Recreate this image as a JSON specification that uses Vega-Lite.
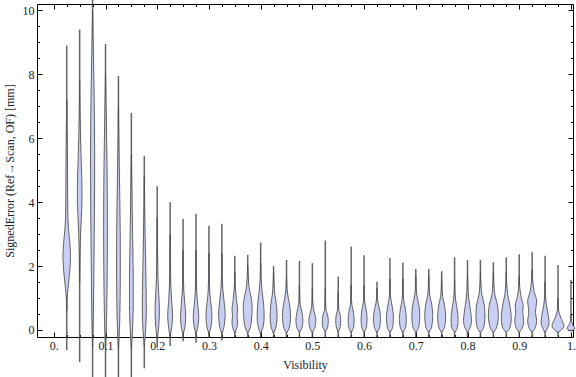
{
  "$schema": "https://vega.github.io/schema/vega-lite/v6.json",
  "width": 536,
  "height": 333,
  "autosize": "none",
  "padding": {"left": 37, "top": 4, "right": 3, "bottom": 40},
  "config": {
    "view": {"stroke": "#000", "strokeWidth": 1},
    "font": "Liberation Serif",
    "axis": {"labelFont": "Liberation Serif", "titleFont": "Liberation Serif", "labelFontSize": 12, "titleFontSize": 12, "titleFontWeight": "normal", "labelColor": "#222", "titleColor": "#222", "tickColor": "#000", "grid": false, "domain": false}
  },
  "datasets": {
    "tails": [
      {"v":0.025,"lo":-0.63,"hi":8.9},{"v":0.05,"lo":-1.0,"hi":9.4},{"v":0.075,"lo":-1.5,"hi":10.4},{"v":0.1,"lo":-1.5,"hi":8.95},
      {"v":0.125,"lo":-1.5,"hi":7.95},{"v":0.15,"lo":-1.5,"hi":6.8},{"v":0.175,"lo":-1.2,"hi":5.45},{"v":0.2,"lo":-0.55,"hi":4.5},
      {"v":0.225,"lo":-0.5,"hi":4.0},{"v":0.25,"lo":-0.35,"hi":3.47},{"v":0.275,"lo":-0.4,"hi":3.64},{"v":0.3,"lo":-0.25,"hi":3.26},
      {"v":0.325,"lo":-0.33,"hi":3.32},{"v":0.35,"lo":-0.22,"hi":2.32},{"v":0.375,"lo":-0.22,"hi":2.35},{"v":0.4,"lo":-0.22,"hi":2.74},
      {"v":0.425,"lo":-0.22,"hi":2.0},{"v":0.45,"lo":-0.22,"hi":2.19},{"v":0.475,"lo":-0.22,"hi":2.16},{"v":0.5,"lo":-0.22,"hi":2.09},
      {"v":0.525,"lo":-0.22,"hi":2.8},{"v":0.55,"lo":-0.22,"hi":1.67},{"v":0.575,"lo":-0.22,"hi":2.61},{"v":0.6,"lo":-0.22,"hi":2.34},
      {"v":0.625,"lo":-0.22,"hi":1.51},{"v":0.65,"lo":-0.22,"hi":2.25},{"v":0.675,"lo":-0.22,"hi":2.11},{"v":0.7,"lo":-0.22,"hi":1.91},
      {"v":0.725,"lo":-0.22,"hi":1.91},{"v":0.75,"lo":-0.22,"hi":1.84},{"v":0.775,"lo":-0.22,"hi":2.27},{"v":0.8,"lo":-0.22,"hi":2.19},
      {"v":0.825,"lo":-0.22,"hi":2.19},{"v":0.85,"lo":-0.22,"hi":2.12},{"v":0.875,"lo":-0.22,"hi":2.27},{"v":0.9,"lo":-0.22,"hi":2.37},
      {"v":0.925,"lo":-0.22,"hi":2.43},{"v":0.95,"lo":-0.22,"hi":2.32},{"v":0.975,"lo":-0.2,"hi":2.03},{"v":1.0,"lo":-0.05,"hi":1.57}
    ],
    "bodies": [
      {"v":0.025,"e":0.6,"d":0},{"v":0.025,"e":1.1,"d":0.6},{"v":0.025,"e":1.5,"d":2.0},{"v":0.025,"e":1.9,"d":3.2},{"v":0.025,"e":2.3,"d":3.8},{"v":0.025,"e":2.7,"d":3.2},{"v":0.025,"e":3.1,"d":2.0},{"v":0.025,"e":3.5,"d":1.2},{"v":0.025,"e":4.2,"d":0.9},{"v":0.025,"e":5.0,"d":0.8},{"v":0.025,"e":5.8,"d":0.6},{"v":0.025,"e":6.5,"d":0.3},{"v":0.025,"e":7.2,"d":0},
      {"v":0.05,"e":1.5,"d":0},{"v":0.05,"e":2.5,"d":0.5},{"v":0.05,"e":3.0,"d":0.9},{"v":0.05,"e":3.5,"d":1.6},{"v":0.05,"e":4.0,"d":2.3},{"v":0.05,"e":4.5,"d":2.3},{"v":0.05,"e":5.0,"d":1.9},{"v":0.05,"e":5.5,"d":1.4},{"v":0.05,"e":6.0,"d":0.9},{"v":0.05,"e":6.8,"d":0.4},{"v":0.05,"e":7.8,"d":0},
      {"v":0.075,"e":-0.5,"d":0},{"v":0.075,"e":0.5,"d":0.8},{"v":0.075,"e":1.5,"d":1.2},{"v":0.075,"e":2.5,"d":1.5},{"v":0.075,"e":3.5,"d":1.8},{"v":0.075,"e":4.5,"d":2.0},{"v":0.075,"e":5.5,"d":2.1},{"v":0.075,"e":6.5,"d":1.9},{"v":0.075,"e":7.5,"d":1.5},{"v":0.075,"e":8.5,"d":0.9},{"v":0.075,"e":9.3,"d":0.4},{"v":0.075,"e":10.0,"d":0},
      {"v":0.1,"e":-0.6,"d":0},{"v":0.1,"e":0.3,"d":1.0},{"v":0.1,"e":1.2,"d":1.5},{"v":0.1,"e":2.2,"d":1.8},{"v":0.1,"e":3.2,"d":1.9},{"v":0.1,"e":4.2,"d":1.8},{"v":0.1,"e":5.2,"d":1.5},{"v":0.1,"e":6.2,"d":1.0},{"v":0.1,"e":7.2,"d":0.5},{"v":0.1,"e":8.0,"d":0},
      {"v":0.125,"e":-0.6,"d":0},{"v":0.125,"e":0.2,"d":1.2},{"v":0.125,"e":1.0,"d":1.7},{"v":0.125,"e":2.0,"d":1.9},{"v":0.125,"e":3.0,"d":1.8},{"v":0.125,"e":4.0,"d":1.4},{"v":0.125,"e":5.0,"d":0.9},{"v":0.125,"e":6.0,"d":0.4},{"v":0.125,"e":7.0,"d":0},
      {"v":0.15,"e":-0.6,"d":0},{"v":0.15,"e":0.1,"d":1.3},{"v":0.15,"e":0.8,"d":1.9},{"v":0.15,"e":1.6,"d":1.9},{"v":0.15,"e":2.5,"d":1.5},{"v":0.15,"e":3.5,"d":1.0},{"v":0.15,"e":4.5,"d":0.5},{"v":0.15,"e":5.5,"d":0},
      {"v":0.175,"e":-0.5,"d":0},{"v":0.175,"e":0.0,"d":1.3},{"v":0.175,"e":0.6,"d":2.0},{"v":0.175,"e":1.2,"d":1.9},{"v":0.175,"e":2.0,"d":1.4},{"v":0.175,"e":3.0,"d":0.8},{"v":0.175,"e":4.0,"d":0.3},{"v":0.175,"e":4.8,"d":0},
      {"v":0.2,"e":-0.3,"d":0},{"v":0.2,"e":0.1,"d":1.5},{"v":0.2,"e":0.6,"d":2.2},{"v":0.2,"e":1.1,"d":1.6},{"v":0.2,"e":1.6,"d":0.8},{"v":0.2,"e":2.5,"d":0.4},{"v":0.2,"e":3.5,"d":0},
      {"v":0.225,"e":-0.2,"d":0},{"v":0.225,"e":0.1,"d":1.6},{"v":0.225,"e":0.45,"d":2.5},{"v":0.225,"e":0.9,"d":1.5},{"v":0.225,"e":1.4,"d":0.7},{"v":0.225,"e":2.2,"d":0.3},{"v":0.225,"e":3.0,"d":0},
      {"v":0.25,"e":-0.15,"d":0},{"v":0.25,"e":0.1,"d":1.8},{"v":0.25,"e":0.4,"d":2.6},{"v":0.25,"e":0.8,"d":1.8},{"v":0.25,"e":1.2,"d":0.8},{"v":0.25,"e":1.8,"d":0.3},{"v":0.25,"e":2.5,"d":0},
      {"v":0.275,"e":-0.15,"d":0},{"v":0.275,"e":0.1,"d":1.8},{"v":0.275,"e":0.4,"d":2.8},{"v":0.275,"e":0.8,"d":1.8},{"v":0.275,"e":1.2,"d":0.7},{"v":0.275,"e":1.8,"d":0.3},{"v":0.275,"e":2.5,"d":0},
      {"v":0.3,"e":-0.12,"d":0},{"v":0.3,"e":0.1,"d":2.0},{"v":0.3,"e":0.45,"d":3.0},{"v":0.3,"e":0.85,"d":1.9},{"v":0.3,"e":1.2,"d":0.8},{"v":0.3,"e":1.8,"d":0.3},{"v":0.3,"e":2.4,"d":0},
      {"v":0.325,"e":-0.12,"d":0},{"v":0.325,"e":0.1,"d":2.2},{"v":0.325,"e":0.5,"d":3.3},{"v":0.325,"e":0.9,"d":2.2},{"v":0.325,"e":1.3,"d":0.9},{"v":0.325,"e":1.8,"d":0.3},{"v":0.325,"e":2.4,"d":0},
      {"v":0.35,"e":-0.1,"d":0},{"v":0.35,"e":0.1,"d":2.3},{"v":0.35,"e":0.25,"d":2.8},{"v":0.35,"e":0.45,"d":2.3},{"v":0.35,"e":0.65,"d":2.8},{"v":0.35,"e":0.9,"d":1.8},{"v":0.35,"e":1.3,"d":0.6},{"v":0.35,"e":1.8,"d":0},
      {"v":0.375,"e":-0.1,"d":0},{"v":0.375,"e":0.1,"d":2.8},{"v":0.375,"e":0.4,"d":4.0},{"v":0.375,"e":0.7,"d":4.5},{"v":0.375,"e":1.0,"d":3.5},{"v":0.375,"e":1.3,"d":1.5},{"v":0.375,"e":1.7,"d":0.5},{"v":0.375,"e":2.0,"d":0},
      {"v":0.4,"e":-0.1,"d":0},{"v":0.4,"e":0.1,"d":2.5},{"v":0.4,"e":0.4,"d":3.5},{"v":0.4,"e":0.8,"d":3.0},{"v":0.4,"e":1.2,"d":1.5},{"v":0.4,"e":1.6,"d":0.5},{"v":0.4,"e":2.1,"d":0},
      {"v":0.425,"e":-0.1,"d":0},{"v":0.425,"e":0.1,"d":2.5},{"v":0.425,"e":0.4,"d":3.5},{"v":0.425,"e":0.8,"d":2.8},{"v":0.425,"e":1.1,"d":1.3},{"v":0.425,"e":1.5,"d":0.4},{"v":0.425,"e":1.8,"d":0},
      {"v":0.45,"e":-0.1,"d":0},{"v":0.45,"e":0.1,"d":3.0},{"v":0.45,"e":0.4,"d":4.0},{"v":0.45,"e":0.7,"d":3.5},{"v":0.45,"e":1.0,"d":1.8},{"v":0.45,"e":1.3,"d":0.5},{"v":0.45,"e":1.7,"d":0},
      {"v":0.475,"e":-0.08,"d":0},{"v":0.475,"e":0.1,"d":2.8},{"v":0.475,"e":0.3,"d":3.5},{"v":0.475,"e":0.55,"d":2.5},{"v":0.475,"e":0.8,"d":0.8},{"v":0.475,"e":1.1,"d":0.2},{"v":0.475,"e":1.4,"d":0},
      {"v":0.5,"e":-0.08,"d":0},{"v":0.5,"e":0.1,"d":2.8},{"v":0.5,"e":0.3,"d":3.5},{"v":0.5,"e":0.5,"d":2.5},{"v":0.5,"e":0.7,"d":0.8},{"v":0.5,"e":1.0,"d":0.2},{"v":0.5,"e":1.3,"d":0},
      {"v":0.525,"e":-0.05,"d":0},{"v":0.525,"e":0.1,"d":2.5},{"v":0.525,"e":0.3,"d":3.0},{"v":0.525,"e":0.5,"d":2.0},{"v":0.525,"e":0.65,"d":0.6},{"v":0.525,"e":1.0,"d":0.2},{"v":0.525,"e":1.3,"d":0},
      {"v":0.55,"e":-0.05,"d":0},{"v":0.55,"e":0.1,"d":2.0},{"v":0.55,"e":0.3,"d":2.5},{"v":0.55,"e":0.5,"d":1.8},{"v":0.55,"e":0.65,"d":0.5},{"v":0.55,"e":1.0,"d":0.2},{"v":0.55,"e":1.2,"d":0},
      {"v":0.575,"e":-0.08,"d":0},{"v":0.575,"e":0.1,"d":2.5},{"v":0.575,"e":0.3,"d":3.0},{"v":0.575,"e":0.55,"d":2.3},{"v":0.575,"e":0.8,"d":0.7},{"v":0.575,"e":1.1,"d":0.2},{"v":0.575,"e":1.4,"d":0},
      {"v":0.6,"e":-0.08,"d":0},{"v":0.6,"e":0.1,"d":2.5},{"v":0.6,"e":0.35,"d":3.0},{"v":0.6,"e":0.6,"d":2.3},{"v":0.6,"e":0.85,"d":0.8},{"v":0.6,"e":1.1,"d":0.2},{"v":0.6,"e":1.4,"d":0},
      {"v":0.625,"e":-0.08,"d":0},{"v":0.625,"e":0.1,"d":2.8},{"v":0.625,"e":0.35,"d":3.5},{"v":0.625,"e":0.6,"d":2.8},{"v":0.625,"e":0.85,"d":1.0},{"v":0.625,"e":1.1,"d":0.3},{"v":0.625,"e":1.3,"d":0},
      {"v":0.65,"e":-0.08,"d":0},{"v":0.65,"e":0.1,"d":2.8},{"v":0.65,"e":0.4,"d":3.5},{"v":0.65,"e":0.7,"d":2.5},{"v":0.65,"e":1.0,"d":0.8},{"v":0.65,"e":1.3,"d":0.2},{"v":0.65,"e":1.6,"d":0},
      {"v":0.675,"e":-0.08,"d":0},{"v":0.675,"e":0.1,"d":2.8},{"v":0.675,"e":0.35,"d":3.5},{"v":0.675,"e":0.65,"d":2.5},{"v":0.675,"e":0.95,"d":0.8},{"v":0.675,"e":1.3,"d":0.2},{"v":0.675,"e":1.6,"d":0},
      {"v":0.7,"e":-0.08,"d":0},{"v":0.7,"e":0.1,"d":3.0},{"v":0.7,"e":0.45,"d":4.0},{"v":0.7,"e":0.8,"d":3.0},{"v":0.7,"e":1.1,"d":1.0},{"v":0.7,"e":1.4,"d":0.3},{"v":0.7,"e":1.7,"d":0},
      {"v":0.725,"e":-0.08,"d":0},{"v":0.725,"e":0.1,"d":3.0},{"v":0.725,"e":0.45,"d":4.0},{"v":0.725,"e":0.8,"d":3.0},{"v":0.725,"e":1.1,"d":1.0},{"v":0.725,"e":1.4,"d":0.3},{"v":0.725,"e":1.7,"d":0},
      {"v":0.75,"e":-0.08,"d":0},{"v":0.75,"e":0.1,"d":3.0},{"v":0.75,"e":0.4,"d":4.0},{"v":0.75,"e":0.75,"d":3.0},{"v":0.75,"e":1.05,"d":1.0},{"v":0.75,"e":1.35,"d":0.3},{"v":0.75,"e":1.6,"d":0},
      {"v":0.775,"e":-0.08,"d":0},{"v":0.775,"e":0.1,"d":3.0},{"v":0.775,"e":0.35,"d":3.5},{"v":0.775,"e":0.7,"d":2.3},{"v":0.775,"e":1.0,"d":0.8},{"v":0.775,"e":1.3,"d":0.2},{"v":0.775,"e":1.6,"d":0},
      {"v":0.8,"e":-0.08,"d":0},{"v":0.8,"e":0.1,"d":3.0},{"v":0.8,"e":0.3,"d":4.0},{"v":0.8,"e":0.6,"d":3.0},{"v":0.8,"e":1.0,"d":1.2},{"v":0.8,"e":1.4,"d":0.3},{"v":0.8,"e":1.7,"d":0},
      {"v":0.825,"e":-0.08,"d":0},{"v":0.825,"e":0.1,"d":3.5},{"v":0.825,"e":0.4,"d":4.5},{"v":0.825,"e":0.75,"d":4.0},{"v":0.825,"e":1.1,"d":1.5},{"v":0.825,"e":1.5,"d":0.3},{"v":0.825,"e":1.8,"d":0},
      {"v":0.85,"e":-0.08,"d":0},{"v":0.85,"e":0.1,"d":3.5},{"v":0.85,"e":0.45,"d":5.0},{"v":0.85,"e":0.8,"d":4.0},{"v":0.85,"e":1.1,"d":1.5},{"v":0.85,"e":1.5,"d":0.4},{"v":0.85,"e":1.8,"d":0},
      {"v":0.875,"e":-0.08,"d":0},{"v":0.875,"e":0.1,"d":4.0},{"v":0.875,"e":0.35,"d":5.0},{"v":0.875,"e":0.7,"d":4.0},{"v":0.875,"e":1.1,"d":1.5},{"v":0.875,"e":1.5,"d":0.3},{"v":0.875,"e":1.8,"d":0},
      {"v":0.9,"e":-0.08,"d":0},{"v":0.9,"e":0.1,"d":3.5},{"v":0.9,"e":0.3,"d":4.5},{"v":0.9,"e":0.55,"d":3.5},{"v":0.9,"e":0.75,"d":4.0},{"v":0.9,"e":1.05,"d":1.8},{"v":0.9,"e":1.4,"d":0.4},{"v":0.9,"e":1.7,"d":0},
      {"v":0.925,"e":-0.08,"d":0},{"v":0.925,"e":0.1,"d":3.5},{"v":0.925,"e":0.3,"d":4.5},{"v":0.925,"e":0.55,"d":3.3},{"v":0.925,"e":0.9,"d":4.5},{"v":0.925,"e":1.2,"d":2.0},{"v":0.925,"e":1.6,"d":0.5},{"v":0.925,"e":1.9,"d":0},
      {"v":0.95,"e":-0.08,"d":0},{"v":0.95,"e":0.1,"d":3.0},{"v":0.95,"e":0.25,"d":4.0},{"v":0.95,"e":0.5,"d":3.0},{"v":0.95,"e":0.8,"d":1.2},{"v":0.95,"e":1.2,"d":0.3},{"v":0.95,"e":1.5,"d":0},
      {"v":0.975,"e":-0.08,"d":0},{"v":0.975,"e":0.13,"d":6.0},{"v":0.975,"e":0.3,"d":4.0},{"v":0.975,"e":0.5,"d":1.5},{"v":0.975,"e":0.7,"d":0.3},{"v":0.975,"e":1.0,"d":0},
      {"v":1.0,"e":-0.03,"d":0},{"v":1.0,"e":0.05,"d":4.0},{"v":1.0,"e":0.15,"d":2.0},{"v":1.0,"e":0.3,"d":0.5},{"v":1.0,"e":0.5,"d":0}
    ]
  },
  "resolve": {"axis": {"x": "independent", "y": "independent"}},
  "layer": [
    {
      "data": {"name": "tails"},
      "mark": {"type": "rule", "color": "#4a4a4a", "strokeWidth": 1.5, "opacity": 0.85},
      "encoding": {
        "x": {"field": "v", "type": "quantitative",
          "scale": {"domain": [-0.0325, 1.004], "nice": false, "zero": false},
          "axis": {"orient": "bottom", "title": "Visibility", "titlePadding": 6,
            "values": [0,0.025,0.05,0.075,0.1,0.125,0.15,0.175,0.2,0.225,0.25,0.275,0.3,0.325,0.35,0.375,0.4,0.425,0.45,0.475,0.5,0.525,0.55,0.575,0.6,0.625,0.65,0.675,0.7,0.725,0.75,0.775,0.8,0.825,0.85,0.875,0.9,0.925,0.95,0.975,1],
            "labelExpr": "round(datum.value*40)%4===0 ? (datum.value===0 ? '0.' : (datum.value>0.999 ? '1.' : format(datum.value,'.1f'))) : ''",
            "tickSize": {"condition": {"test": "round(datum.value*40)%4===0", "value": -5}, "value": -2.5},
            "labelPadding": 8, "labelFlush": false, "labelOverlap": false}},
        "y": {"field": "lo", "type": "quantitative",
          "scale": {"domain": [-0.22, 10.2], "nice": false, "zero": false},
          "axis": {"orient": "left", "title": "SignedError (Ref\u2192Scan, OF) [mm]", "titlePadding": 6,
            "values": [0,0.5,1,1.5,2,2.5,3,3.5,4,4.5,5,5.5,6,6.5,7,7.5,8,8.5,9,9.5,10],
            "labelExpr": "datum.value % 2 === 0 ? format(datum.value,'d') : ''",
            "tickSize": {"condition": {"test": "datum.value % 2 === 0", "value": -5}, "value": -2.5},
            "labelPadding": 8, "labelOverlap": false}},
        "y2": {"field": "hi"}
      }
    },
    {
      "data": {"name": "bodies"},
      "transform": [
        {"calculate": "datum.v - datum.d*0.00193", "as": "xl"},
        {"calculate": "datum.v + datum.d*0.00193", "as": "xh"}
      ],
      "mark": {"type": "area", "orient": "horizontal", "interpolate": "monotone", "fill": "#c9cef3", "fillOpacity": 1, "stroke": "#4d4d4d", "strokeWidth": 1, "strokeOpacity": 0.85},
      "encoding": {
        "y": {"field": "e", "type": "quantitative",
          "axis": {"orient": "right", "title": null, "labels": false,
            "values": [0,0.5,1,1.5,2,2.5,3,3.5,4,4.5,5,5.5,6,6.5,7,7.5,8,8.5,9,9.5,10],
            "tickSize": {"condition": {"test": "datum.value % 2 === 0", "value": -5}, "value": -2.5}}},
        "x": {"field": "xl", "type": "quantitative",
          "axis": {"orient": "top", "title": null, "labels": false,
            "values": [0,0.025,0.05,0.075,0.1,0.125,0.15,0.175,0.2,0.225,0.25,0.275,0.3,0.325,0.35,0.375,0.4,0.425,0.45,0.475,0.5,0.525,0.55,0.575,0.6,0.625,0.65,0.675,0.7,0.725,0.75,0.775,0.8,0.825,0.85,0.875,0.9,0.925,0.95,0.975,1],
            "tickSize": {"condition": {"test": "round(datum.value*40)%4===0", "value": -5}, "value": -2.5}}},
        "x2": {"field": "xh"},
        "detail": {"field": "v", "type": "nominal"}
      }
    }
  ]
}
